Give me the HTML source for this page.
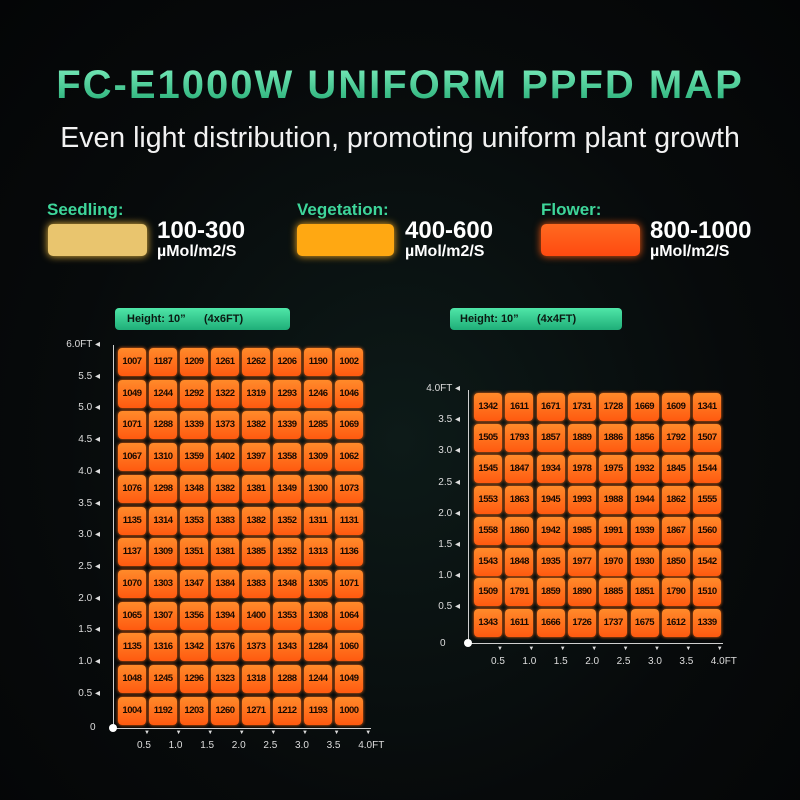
<!DOCTYPE html>
<html><head><meta charset="utf-8"><style>
body{margin:0;width:800px;height:800px;overflow:hidden;background:radial-gradient(ellipse at 50% 55%,#0d1a18 0%,#070a0b 60%,#040506 100%);font-family:"Liberation Sans",sans-serif;position:relative}
.a{position:absolute}
.title{left:0;width:800px;top:63px;text-align:center;font-size:40px;font-weight:bold;letter-spacing:2px;color:#3fd69a;background:linear-gradient(#7ff0c0,#1fa870);-webkit-background-clip:text;background-clip:text;-webkit-text-fill-color:transparent}
.sub{left:0;width:800px;top:122px;text-align:center;font-size:28.5px;color:#f2f2f2}
.lab{font-size:17px;font-weight:bold;color:#3ed69a}
.box{height:32px;border-radius:5px}
.big{font-size:24px;font-weight:bold;color:#fff}
.unit{font-size:16px;font-weight:bold;color:#fff}
.cell{position:absolute;border-radius:4px;background:linear-gradient(#ff8a2a,#ff5a10);box-shadow:0 0 3px #ff6a10;font-size:9.5px;font-weight:bold;color:#1a0a00;text-align:center;letter-spacing:-0.5px}
.hb{background:linear-gradient(#4fe6a8,#1fae78);border-radius:4px;font-size:11px;font-weight:bold;color:#0a1a12;height:22px;line-height:22px}
.tk{font-size:10px;color:#ddd;position:absolute}
.ln{position:absolute;background:#cfcfcf}
</style></head><body>
<div class="a title">FC-E1000W UNIFORM PPFD MAP</div>
<div class="a sub">Even light distribution, promoting uniform plant growth</div>

<div class="a lab" style="left:47px;top:200px">Seedling:</div>
<div class="a box" style="left:48px;top:224px;width:99px;background:#e9c56e;box-shadow:0 0 8px #f5c040"></div>
<div class="a big" style="left:157px;top:217px">100-300</div>
<div class="a unit" style="left:157px;top:243px">µMol/m2/S</div>

<div class="a lab" style="left:297px;top:200px">Vegetation:</div>
<div class="a box" style="left:297px;top:224px;width:97px;background:#ffa812;box-shadow:0 0 8px #ffb020"></div>
<div class="a big" style="left:405px;top:217px">400-600</div>
<div class="a unit" style="left:405px;top:243px">µMol/m2/S</div>

<div class="a lab" style="left:541px;top:200px">Flower:</div>
<div class="a box" style="left:541px;top:224px;width:99px;background:linear-gradient(#ff6a20,#ff4a10);box-shadow:0 0 8px #ff5a10"></div>
<div class="a big" style="left:650px;top:217px">800-1000</div>
<div class="a unit" style="left:650px;top:243px">µMol/m2/S</div>

<div class="a hb" style="left:115px;top:308px;width:175px;padding-left:12px;box-sizing:border-box">Height: 10”&nbsp;&nbsp;&nbsp;&nbsp;&nbsp;&nbsp;(4x6FT)</div>
<div class="a hb" style="left:450px;top:308px;width:172px;padding-left:10px;box-sizing:border-box">Height: 10”&nbsp;&nbsp;&nbsp;&nbsp;&nbsp;&nbsp;(4x4FT)</div>

<div id="g"></div>
<script>
var g=document.getElementById('g'),h='';
var L=[[1007,1187,1209,1261,1262,1206,1190,1002],[1049,1244,1292,1322,1319,1293,1246,1046],[1071,1288,1339,1373,1382,1339,1285,1069],[1067,1310,1359,1402,1397,1358,1309,1062],[1076,1298,1348,1382,1381,1349,1300,1073],[1135,1314,1353,1383,1382,1352,1311,1131],[1137,1309,1351,1381,1385,1352,1313,1136],[1070,1303,1347,1384,1383,1348,1305,1071],[1065,1307,1356,1394,1400,1353,1308,1064],[1135,1316,1342,1376,1373,1343,1284,1060],[1048,1245,1296,1323,1318,1288,1244,1049],[1004,1192,1203,1260,1271,1212,1193,1000]];
var R=[[1342,1611,1671,1731,1728,1669,1609,1341],[1505,1793,1857,1889,1886,1856,1792,1507],[1545,1847,1934,1978,1975,1932,1845,1544],[1553,1863,1945,1993,1988,1944,1862,1555],[1558,1860,1942,1985,1991,1939,1867,1560],[1543,1848,1935,1977,1970,1930,1850,1542],[1509,1791,1859,1890,1885,1851,1790,1510],[1343,1611,1666,1726,1737,1675,1612,1339]];
function grid(D,x0,y0,px,py,w,hh){for(var r=0;r<D.length;r++)for(var c=0;c<8;c++)h+='<div class="cell" style="left:'+(x0+c*px)+'px;top:'+(y0+r*py)+'px;width:'+w+'px;height:'+hh+'px;line-height:'+hh+'px">'+D[r][c]+'</div>';}
grid(L,118,348,31,31.7,28,28);
grid(R,474,393,31.3,30.9,28,28);
h+='<div class="ln" style="left:113px;top:345px;width:1px;height:384px"></div><div class="ln" style="left:113px;top:728px;width:258px;height:1px"></div>';
h+='<div class="a" style="left:109px;top:724px;width:8px;height:8px;border-radius:50%;background:#fff"></div>';
var yl=['6.0FT','5.5','5.0','4.5','4.0','3.5','3.0','2.5','2.0','1.5','1.0','0.5'];
for(var i=0;i<12;i++)h+='<div class="tk" style="left:40px;top:'+(339+i*31.7)+'px;text-align:right;width:60px">'+yl[i]+' ◂</div>';
h+='<div class="tk" style="left:90px;top:722px">0</div>';
var xl=['0.5','1.0','1.5','2.0','2.5','3.0','3.5','4.0FT'];
for(var i=0;i<8;i++){h+='<div class="tk" style="left:'+(144+i*31.6)+'px;top:730px;font-size:6px">▼</div><div class="tk" style="left:'+(137+i*31.6)+'px;top:740px">'+xl[i]+'</div>';}
h+='<div class="ln" style="left:468px;top:390px;width:1px;height:254px"></div><div class="ln" style="left:468px;top:643px;width:255px;height:1px"></div>';
h+='<div class="a" style="left:464px;top:639px;width:8px;height:8px;border-radius:50%;background:#fff"></div>';
var yr=['4.0FT','3.5','3.0','2.5','2.0','1.5','1.0','0.5'];
for(var i=0;i<8;i++)h+='<div class="tk" style="left:395px;top:'+(383+i*31.2)+'px;text-align:right;width:65px">'+yr[i]+' ◂</div>';
h+='<div class="tk" style="left:440px;top:638px">0</div>';
for(var i=0;i<8;i++){h+='<div class="tk" style="left:'+(497+i*31.4)+'px;top:646px;font-size:6px">▼</div><div class="tk" style="left:'+(491+i*31.4)+'px;top:656px">'+xl[i]+'</div>';}
g.innerHTML=h;
</script>
</body></html>
